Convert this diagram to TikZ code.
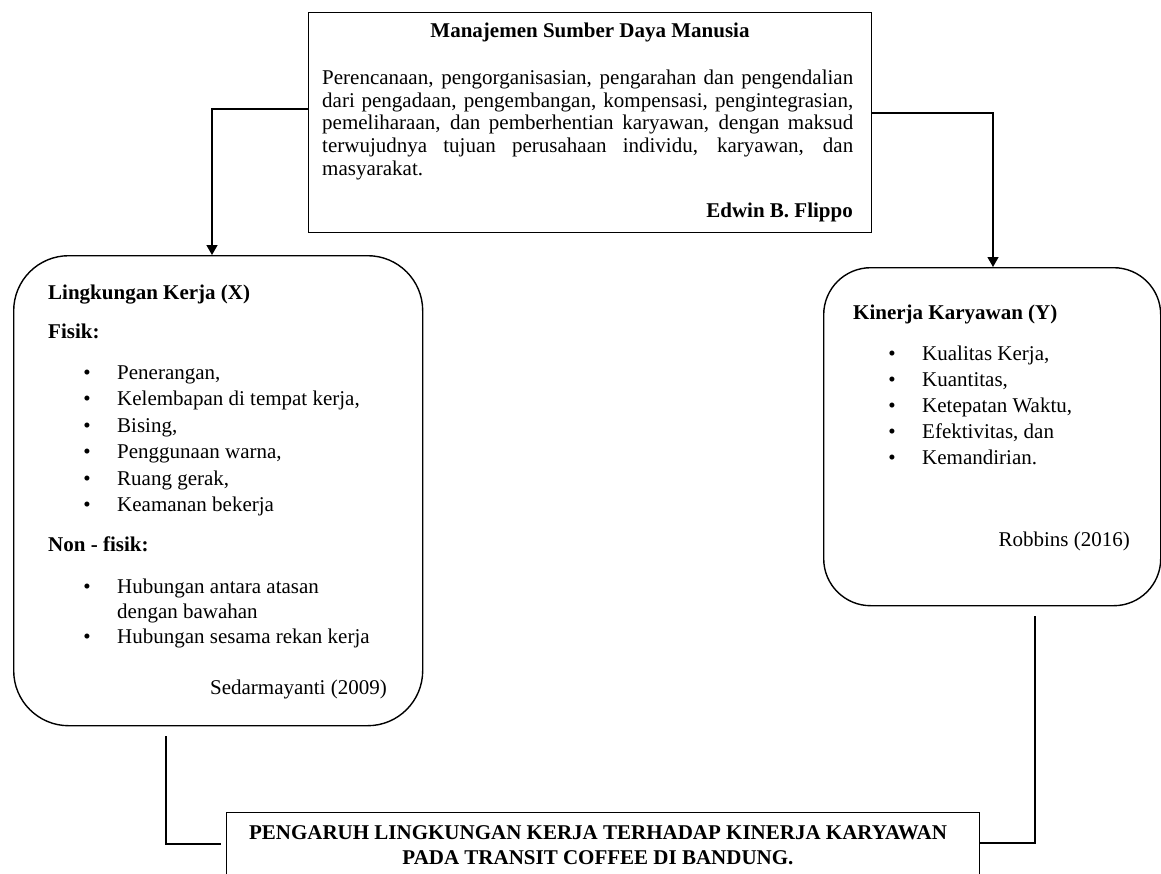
\documentclass[tikz,border=0pt]{standalone}
\usepackage{fontspec}
\setmainfont{Liberation Serif}
\usetikzlibrary{arrows.meta,calc}
\begin{document}
\begin{tikzpicture}[x=1pt,y=-1pt,
  box/.style={draw, line width=1.4pt, inner sep=0pt, anchor=north west},
  lbox/.style={box, rounded corners=55pt},
  kbox/.style={box, rounded corners=47pt},
  conn/.style={draw, line width=1.4pt},
  arr/.style={conn, -{Triangle[length=10pt,width=11pt]}},
  txt/.style={inner sep=0pt, font=\fontsize{21}{25}\selectfont},
  btxt/.style={inner sep=0pt, font=\fontsize{21}{25}\selectfont\bfseries},
  blt/.style={inner sep=0pt, font=\fontsize{21}{25}\selectfont, anchor=base},
]
\useasboundingbox (0,0) rectangle (1161,873);
\clip (0,0) rectangle (1161,873);

% ---------- top box ----------
\node[box, minimum width=563pt, minimum height=220pt] (mgmt) at (308,12) {};
\node[btxt, anchor=base] (mtitle) at (590,37) {Manajemen Sumber Daya Manusia};
\node[txt, anchor=base west] (p1) at (322,84) {\makebox[531pt][s]{Perencanaan, pengorganisasian, pengarahan dan pengendalian}};
\node[txt, anchor=base west] (p2) at (322,107) {\makebox[531pt][s]{dari pengadaan, pengembangan, kompensasi, pengintegrasian,}};
\node[txt, anchor=base west] (p3) at (322,129) {\makebox[531pt][s]{pemeliharaan, dan pemberhentian karyawan, dengan maksud}};
\node[txt, anchor=base west] (p4) at (322,152) {\makebox[531pt][s]{terwujudnya tujuan perusahaan individu, karyawan, dan}};
\node[txt, anchor=base west] (p5) at (322,175) {masyarakat.};
\node[btxt, anchor=base east] (mauth) at (853,217) {Edwin B. Flippo};

% ---------- left box ----------
\node[lbox, minimum width=409pt, minimum height=470pt] (lk) at (13,255) {};
\node[btxt, anchor=base west] (lkt) at (48,299) {Lingkungan Kerja (X)};
\node[btxt, anchor=base west] (fis) at (48,338) {Fisik:};
\foreach \yy/\tt [count=\i] in {379/{Penerangan,}, 405/{Kelembapan di tempat kerja,}, 432/{Bising,}, 458/{Penggunaan warna,}, 485/{Ruang gerak,}, 511/{Keamanan bekerja}}{
  \node[blt] (fb\i) at (87,\yy) {\textbullet};
  \node[txt, anchor=base west] (fi\i) at (117,\yy) {\tt};
}
\node[btxt, anchor=base west] (nfis) at (48,551) {Non - fisik:};
\node[blt] (nb1) at (87,593) {\textbullet};
\node[txt, anchor=base west] (ni1) at (117,593) {Hubungan antara atasan};
\node[txt, anchor=base west] (ni1b) at (117,618) {dengan bawahan};
\node[blt] (nb2) at (87,643) {\textbullet};
\node[txt, anchor=base west] (ni2) at (117,643) {Hubungan sesama rekan kerja};
\node[txt, anchor=base east] (lkauth) at (387,694) {Sedarmayanti (2009)};

% ---------- right box ----------
\node[kbox, minimum width=337pt, minimum height=338pt] (kk) at (823,267) {};
\node[btxt, anchor=base west] (kkt) at (853,319) {Kinerja Karyawan (Y)};
\foreach \yy/\tt [count=\i] in {360/{Kualitas Kerja,}, 386/{Kuantitas,}, 412/{Ketepatan Waktu,}, 438/{Efektivitas, dan}, 464/{Kemandirian.}}{
  \node[blt] (kb\i) at (892,\yy) {\textbullet};
  \node[txt, anchor=base west] (ki\i) at (922,\yy) {\tt};
}
\node[txt, anchor=base east] (kkauth) at (1130,546) {Robbins (2016)};

% ---------- bottom box ----------
\node[box, minimum width=753pt, minimum height=100pt] (judul) at (226,812) {};
\node[btxt, anchor=base] (j1) at (598,839) {PENGARUH LINGKUNGAN KERJA TERHADAP KINERJA KARYAWAN};
\node[btxt, anchor=base] (j2) at (598,864) {PADA TRANSIT COFFEE DI BANDUNG.};

% ---------- connectors ----------
\coordinate (lbend) at (212,109);
\coordinate (rbend) at (993,113);
\coordinate (lcorner) at (166,844);
\coordinate (rcorner) at (1035,843);
\draw[arr] (mgmt.west |- lbend) -- (lbend) -- (lbend |- lk.north);
\draw[arr] (mgmt.east |- rbend) -- (rbend) -- (rbend |- kk.north);
\draw[conn] ($(lcorner |- lk.south)+(0,10)$) -- (lcorner) -- ($(lcorner -| judul.west)+(-5,0)$);
\draw[conn] ($(rcorner |- kk.south)+(0,10)$) -- (rcorner) -- (rcorner -| judul.east);
\end{tikzpicture}
\end{document}
